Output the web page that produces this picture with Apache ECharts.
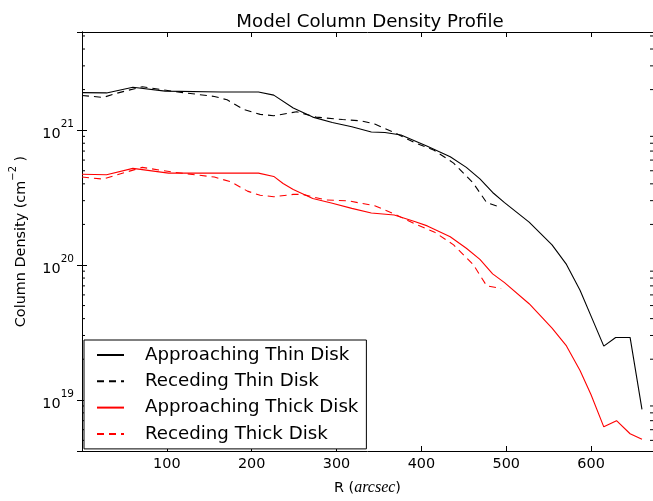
<!DOCTYPE html>
<html>
<head>
<meta charset="utf-8">
<script src="https://cdn.jsdelivr.net/npm/echarts@6/dist/echarts.min.js"></script>
<style>
html,body{margin:0;padding:0;background:#fff;}
#chart{width:653px;height:501px;}
</style>
</head>
<body>
<div id="chart"></div>
<script>
// ---- data ----
const seriesNames = ['Approaching Thin Disk', 'Receding Thin Disk', 'Approaching Thick Disk', 'Receding Thick Disk'];

const thinApprR = [0, 29, 60, 98, 164, 208, 226, 249, 272, 295, 318, 341, 357, 376, 407, 434, 453, 469, 484, 498, 527, 554, 571, 587, 602, 615, 629, 646, 660];
const thinApprN = [1.90e21, 1.89e21, 2.08e21, 1.95e21, 1.92e21, 1.92e21, 1.82e21, 1.46e21, 1.25e21, 1.14e21, 1.06e21, 9.7e20, 9.6e20, 9.2e20, 7.6e20, 6.35e20, 5.3e20, 4.35e20, 3.45e20, 2.9e20, 2.08e20, 1.41e20, 1.01e20, 6.5e19, 3.9e19, 2.5e19, 2.9e19, 2.9e19, 8.5e18];

const thinRecR = [0, 25, 41, 71, 110, 156, 171, 191, 210, 226, 253, 276, 307, 330, 345, 368, 392, 415, 438, 461, 477, 494];
const thinRecN = [1.81e21, 1.75e21, 1.88e21, 2.10e21, 1.93e21, 1.78e21, 1.68e21, 1.42e21, 1.31e21, 1.28e21, 1.37e21, 1.25e21, 1.20e21, 1.17e21, 1.11e21, 9.6e20, 8.1e20, 7.1e20, 5.7e20, 4.06e20, 2.9e20, 2.67e20];

const thickApprR = [0, 29, 60, 102, 164, 208, 226, 237, 249, 272, 295, 318, 341, 368, 392, 407, 434, 453, 469, 484, 498, 527, 554, 571, 587, 600, 615, 630, 646, 660];
const thickApprN = [4.71e20, 4.67e20, 5.21e20, 4.80e20, 4.80e20, 4.80e20, 4.54e20, 4.02e20, 3.63e20, 3.11e20, 2.87e20, 2.63e20, 2.43e20, 2.35e20, 2.10e20, 1.95e20, 1.62e20, 1.33e20, 1.10e20, 8.6e19, 7.4e19, 5.16e19, 3.40e19, 2.51e19, 1.65e19, 1.09e19, 6.3e18, 7.0e18, 5.6e18, 5.1e18];

const thickRecR = [0, 25, 71, 110, 156, 176, 195, 210, 226, 249, 260, 287, 314, 345, 368, 392, 415, 438, 461, 477, 494];
const thickRecN = [4.49e20, 4.34e20, 5.30e20, 4.86e20, 4.49e20, 4.13e20, 3.53e20, 3.29e20, 3.21e20, 3.34e20, 3.34e20, 3.04e20, 2.99e20, 2.75e20, 2.39e20, 2.02e20, 1.76e20, 1.41e20, 1.01e20, 7.0e19, 6.7e19];

const xTickValues = [100, 200, 300, 400, 500, 600];
const yMajorExponents = [19, 20, 21];
const yMinorTicks = [5e18, 6e18, 7e18, 8e18, 9e18,
  2e19, 3e19, 4e19, 5e19, 6e19, 7e19, 8e19, 9e19,
  2e20, 3e20, 4e20, 5e20, 6e20, 7e20, 8e20, 9e20,
  2e21, 3e21, 4e21, 5e21];

const X_MIN = 0, X_MAX = 673;
const Y_MIN = 4.17e18, Y_MAX = 5.35e21;

function pairs(xs, ys) { return xs.map((x, i) => [x, ys[i]]); }

const FONT = 'DejaVu Sans';
const chart = echarts.init(document.getElementById('chart'), null, {renderer: 'canvas'});

const axisLine = {show: true, lineStyle: {color: '#000', width: 1}};

function lineSeries(name, data, color, dashed) {
  return {
    name: name, type: 'line', data: data, xAxisIndex: 0, yAxisIndex: 0,
    symbol: 'none', showSymbol: false, smooth: false, clip: true,
    lineStyle: {color: color, width: 1.1, type: dashed ? [7, 5] : 'solid'},
    itemStyle: {color: color},
    emphasis: {disabled: true}, animation: false, z: 3
  };
}

const option = {
  animation: false,
  backgroundColor: '#fff',
  title: {
    text: 'Model Column Density Profile',
    left: 365, top: 8, textAlign: 'center',
    textStyle: {fontFamily: FONT, fontSize: 18.2, fontWeight: 'normal', color: '#000'}
  },
  grid: {left: 75, right: -3, top: 32, bottom: 40, containLabel: false},
  legend: {
    orient: 'vertical', left: 84, top: 340,
    data: seriesNames,
    itemWidth: 27, itemHeight: 14, itemGap: 8.3,
    padding: [6, 8, 6, 12],
    borderColor: '#000', borderWidth: 1, backgroundColor: '#fff',
    itemStyle: {opacity: 0},
    textStyle: {fontFamily: FONT, fontSize: 18.2, lineHeight: 18, color: '#000', padding: [0, 0, 0, 16]},
    selectedMode: false, z: 10
  },
  xAxis: [{
    type: 'value', min: X_MIN, max: X_MAX, interval: 100,
    position: 'bottom',
    axisLine: axisLine,
    axisTick: {show: true, inside: true, length: 5, lineStyle: {color: '#000'}},
    splitLine: {show: false},
    axisLabel: {
      fontFamily: FONT, fontSize: 14.4, color: '#000', margin: 6,
      showMinLabel: false, showMaxLabel: false,
      formatter: v => xTickValues.indexOf(v) >= 0 ? String(v) : ''
    },
    name: '{a|R (}{b|arcsec}{a|)}',
    nameLocation: 'middle', nameGap: 29,
    nameTextStyle: {
      rich: {
        a: {fontFamily: FONT, fontSize: 14.4, color: '#000'},
        b: {fontFamily: 'Liberation Serif', fontStyle: 'italic', fontSize: 16, color: '#000'}
      }
    }
  }, {
    type: 'value', min: X_MIN, max: X_MAX, interval: 100,
    position: 'top',
    axisLine: axisLine,
    axisTick: {show: true, inside: true, length: 5, lineStyle: {color: '#000'}},
    splitLine: {show: false},
    axisLabel: {show: false}
  }],
  yAxis: [{
    type: 'log', logBase: 10, min: Y_MIN, max: Y_MAX,
    position: 'left',
    axisLine: axisLine,
    axisTick: {show: true, inside: true, length: 5, lineStyle: {color: '#000'}},
    minorTick: {show: false},
    splitLine: {show: false},
    axisLabel: {
      margin: 8, color: '#000',
      showMinLabel: false, showMaxLabel: false,
      formatter: function (v) {
        const e = Math.log10(v);
        const r = Math.round(e);
        if (Math.abs(e - r) < 1e-6 && yMajorExponents.indexOf(r) >= 0) {
          return '{b|10}{s|' + r + '}';
        }
        return '';
      },
      rich: {
        b: {fontFamily: FONT, fontSize: 14.4, color: '#000', verticalAlign: 'bottom', lineHeight: 22},
        s: {fontFamily: FONT, fontSize: 10.5, color: '#000', verticalAlign: 'top', lineHeight: 22}
      }
    },
    name: '{a|Column Density (cm}{s|−2}{a| )}',
    nameLocation: 'middle', nameGap: 54, nameRotate: 90,
    nameTextStyle: {
      rich: {
        a: {fontFamily: FONT, fontSize: 14.4, color: '#000', verticalAlign: 'bottom', lineHeight: 20},
        s: {fontFamily: FONT, fontSize: 10, color: '#000', verticalAlign: 'top', lineHeight: 20}
      }
    }
  }, {
    type: 'log', logBase: 10, min: Y_MIN, max: Y_MAX,
    position: 'right',
    axisLine: axisLine,
    axisTick: {show: true, inside: true, length: 5, lineStyle: {color: '#000'}},
    splitLine: {show: false},
    axisLabel: {show: false}
  }],
  series: [
    lineSeries(seriesNames[0], pairs(thinApprR, thinApprN), '#000000', false),
    lineSeries(seriesNames[1], pairs(thinRecR, thinRecN), '#000000', true),
    lineSeries(seriesNames[2], pairs(thickApprR, thickApprN), '#ff0000', false),
    lineSeries(seriesNames[3], pairs(thickRecR, thickRecN), '#ff0000', true),
    {
      type: 'custom', xAxisIndex: 0, yAxisIndex: 0, silent: true, z: 2,
      data: yMinorTicks.map(v => [X_MIN, v]),
      renderItem: function (params, api) {
        const cs = params.coordSys;
        const y = api.coord([X_MIN, api.value(1)])[1];
        const st = {stroke: '#000', lineWidth: 1};
        return {
          type: 'group',
          children: [
            {type: 'line', shape: {x1: cs.x, y1: y, x2: cs.x + 3, y2: y}, style: st},
            {type: 'line', shape: {x1: cs.x + cs.width - 3, y1: y, x2: cs.x + cs.width, y2: y}, style: st}
          ]
        };
      }
    }
  ]
};
chart.setOption(option);
</script>
</body>
</html>
